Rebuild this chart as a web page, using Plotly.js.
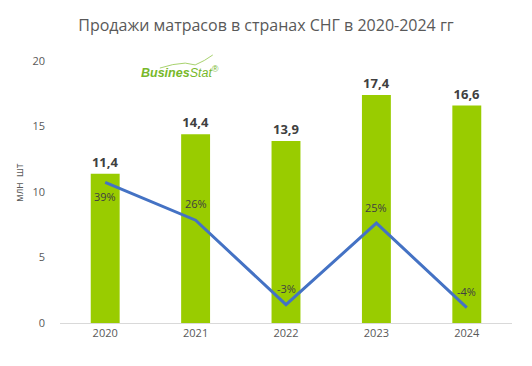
<!DOCTYPE html>
<html>
<head>
<meta charset="utf-8">
<script src="https://cdn.plot.ly/plotly-3.0.1.min.js"></script>
<style>html,body{margin:0;padding:0;background:#fff;}#chart{width:532px;height:366px;}</style>
</head>
<body>
<div id="chart"></div>
<script>
const years = ['2020', '2021', '2022', '2023', '2024'];
const sales = [11.4, 14.4, 13.9, 17.4, 16.6];
const growth = [39, 26, -3, 25, -4];
const growthShift = [-14, 17, 16, 16, 16];

const FONT = 'Open Sans, Liberation Sans, sans-serif';

const bars = {
  type: 'bar', x: years, y: sales,
  marker: {color: '#99CC00'},
  width: 0.32,
  text: sales.map(v => '<b>' + v.toFixed(1).replace('.', ',') + '</b>'),
  textposition: 'outside',
  textfont: {family: FONT, size: 13, color: '#404040'},
  cliponaxis: false,
  hoverinfo: 'skip'
};
const line = {
  type: 'scatter', mode: 'lines', x: years, y: growth, yaxis: 'y2',
  line: {color: '#4472C4', width: 3},
  hoverinfo: 'skip'
};

const pctAnn = years.map((yr, i) => ({
  x: i, y: growth[i], xref: 'x', yref: 'y2', yshift: growthShift[i],
  text: growth[i] + '%', showarrow: false,
  font: {family: FONT, size: 11, color: '#404040'}
}));

const layout = {
  width: 532, height: 366,
  margin: {l: 60, r: 20, t: 61, b: 43},
  paper_bgcolor: '#fff', plot_bgcolor: '#fff',
  showlegend: false,
  font: {family: FONT, color: '#595959'},
  title: {text: 'Продажи матрасов в странах СНГ в 2020-2024 гг', x: 0.5, xanchor: 'center', y: 0.93, yanchor: 'middle', font: {family: FONT, size: 16, color: '#595959'}},
  xaxis: {type: 'category', categoryarray: years, range: [-0.5, years.length - 0.5], showgrid: false, showline: true, linecolor: '#d9d9d9', linewidth: 1, ticks: '', tickfont: {size: 11, color: '#595959'}, zeroline: false},
  yaxis: {range: [0, 20], dtick: 5, showgrid: false, zeroline: false, showline: false, ticks: '', tickfont: {size: 11, color: '#595959'}, ticklabelstandoff: 14},
  yaxis2: {range: [-9.3, 80.7], overlaying: 'y', visible: false, showgrid: false, zeroline: false},
  annotations: pctAnn.concat([
    {text: 'млн&nbsp;&nbsp;шт', xref: 'paper', yref: 'paper', x: -0.091, y: 0.535, xanchor: 'center', yanchor: 'middle', textangle: -90, showarrow: false, font: {size: 10, color: '#595959'}},
    {text: '<b><i>Busines</i></b><i>Stat</i><sup>®</sup>', xref: 'paper', yref: 'paper', x: 0.175, y: 0.958, xanchor: 'left', yanchor: 'middle', showarrow: false, font: {family: 'Liberation Sans, sans-serif', size: 12.5, color: '#77B82A'}}
  ]),
  shapes: [
    {type: 'path', xref: 'paper', yref: 'paper', path: 'M 0.221 0.973 Q 0.25 0.99 0.277 0.992 L 0.299 0.985 Q 0.32 1.0 0.338 1.023', line: {color: '#A8D26E', width: 1}}
  ]
};

Plotly.newPlot('chart', [bars, line], layout, {displayModeBar: false, staticPlot: true});
</script>
</body>
</html>
